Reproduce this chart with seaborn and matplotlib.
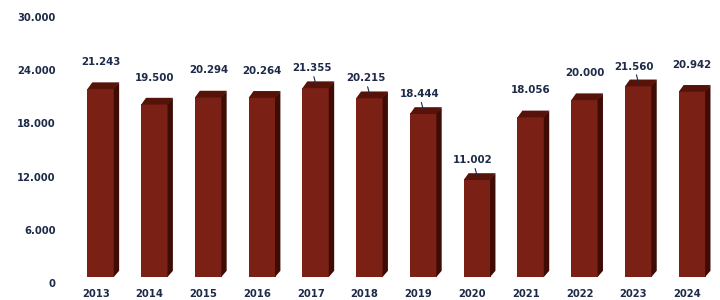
import numpy as np
import pandas as pd
import matplotlib.pyplot as plt
import matplotlib.transforms as mtransforms
from matplotlib.patches import Polygon
import seaborn as sns

years = ["2013", "2014", "2015", "2016", "2017", "2018",
         "2019", "2020", "2021", "2022", "2023", "2024"]
values = [21243, 19500, 20294, 20264, 21355, 20215,
          18444, 11002, 18056, 20000, 21560, 20942]
value_labels = ["21.243", "19.500", "20.294", "20.264", "21.355", "20.215",
                "18.444", "11.002", "18.056", "20.000", "21.560", "20.942"]
leader = [False, False, False, False, True, True,
          True, True, False, False, True, False]
yticks = [0, 6000, 12000, 18000, 24000, 30000]
ytick_labels = ["0", "6.000", "12.000", "18.000", "24.000", "30.000"]

df = pd.DataFrame({"year": years, "value": values})

sns.set_style("white")
plt.rcParams["font.family"] = ["DejaVu Sans"]

front = "#7a2014"
top = "#561309"
side = "#3f0c05"
navy = "#1d2a48"

fig = plt.figure(figsize=(7.2, 3.0), dpi=100)
ax = fig.add_axes([0.0958, 0.0567, 0.896, 0.887])

sns.barplot(data=df, x="year", y="value", color=front, width=0.5,
            saturation=1, ax=ax, edgecolor="none")
ax.set_ylim(0, 30000)
ax.set_xlim(-0.5, 11.5)

# lift the front faces a bit, like the 3d floor of the original
lift = mtransforms.ScaledTranslation(5 / 100, 6 / 100, fig.dpi_scale_trans)
tr = ax.transData + lift
# depth of the fake 3d in data units (about 5 px right, 6 px up)
ddx = 0.09
ddy = 700
ov = 0.01  # small overlap so no seam shows

for i, p in enumerate(ax.patches):
    p.set_transform(tr)
    x0, w, h = p.get_x(), p.get_width(), p.get_height()
    x1 = x0 + w
    ax.add_patch(Polygon([(x1 - ov, 0), (x1 - ov, h), (x1 + ddx, h + ddy), (x1 + ddx, ddy)],
                         closed=True, transform=tr, facecolor=side,
                         edgecolor="none", clip_on=False))
    ax.add_patch(Polygon([(x0, h - 60), (x1, h - 60), (x1 + ddx, h + ddy), (x0 + ddx, h + ddy)],
                         closed=True, transform=tr, facecolor=top,
                         edgecolor="none", clip_on=False))

    xc = x0 + w / 2
    if leader[i]:
        ax.annotate(value_labels[i], xy=(xc, h + ddy * 0.5), xycoords=tr,
                    xytext=(-3, 8), textcoords="offset points",
                    ha="center", va="bottom", fontsize=7.4, fontweight="bold",
                    color=navy,
                    arrowprops=dict(arrowstyle="-", color=navy, lw=0.8,
                                    shrinkA=0, shrinkB=0))
    else:
        ax.annotate(value_labels[i], xy=(xc, h + ddy), xycoords=tr,
                    xytext=(0, 11), textcoords="offset points",
                    ha="center", va="bottom", fontsize=7.4, fontweight="bold",
                    color=navy)

ax.set_yticks(yticks)
ax.set_yticklabels(ytick_labels)
ax.tick_params(axis="both", length=0, labelsize=7.2, colors=navy)
ax.tick_params(axis="y", pad=9.5)
ax.tick_params(axis="x", pad=4)
for lbl in ax.get_xticklabels() + ax.get_yticklabels():
    lbl.set_fontweight("bold")
ax.set_xlabel("")
ax.set_ylabel("")
sns.despine(ax=ax, left=True, bottom=True)

fig.savefig("out.png", dpi=100, facecolor="white")
